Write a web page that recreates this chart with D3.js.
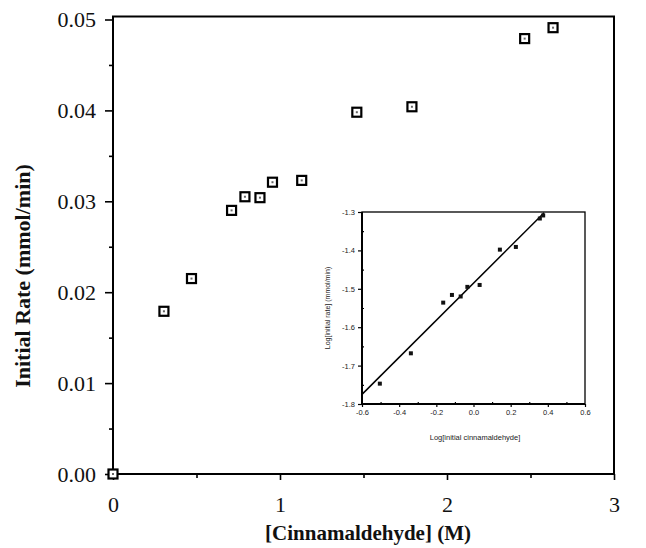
<!DOCTYPE html>
<html>
<head>
<meta charset="utf-8">
<script src="https://cdn.jsdelivr.net/npm/d3@7"></script>
<style>
  body { margin: 0; background: #fff; }
  svg { display: block; }
</style>
</head>
<body>
<div id="chart"></div>
<script>
// main plot: rate vs concentration
const conc = [0, 0.305, 0.47, 0.71, 0.79, 0.88, 0.955, 1.13, 1.46, 1.79, 2.465, 2.635];
const rate = [0, 0.0179, 0.0215, 0.0290, 0.0305, 0.0304, 0.0321, 0.0323, 0.0398, 0.0404, 0.0479, 0.0491];
const xTicks = [0, 1, 2, 3];
const xMinor = [0.5, 1.5, 2.5];
const yTicks = [0, 0.01, 0.02, 0.03, 0.04, 0.05];
const yMinor = [0.005, 0.015, 0.025, 0.035, 0.045];

// inset: log/log
const logConc = [-0.504, -0.337, -0.163, -0.116, -0.069, -0.033, 0.033, 0.142, 0.228, 0.357, 0.375];
const logRate = [-1.747, -1.668, -1.536, -1.516, -1.520, -1.495, -1.490, -1.398, -1.391, -1.317, -1.309];
const fitX = [-0.6, 0.38];
const fitY = [-1.775, -1.302];
const inXTicks = [-0.6, -0.4, -0.2, 0.0, 0.2, 0.4, 0.6];
const inXLabels = ["-0.6", "-0.4", "-0.2", "0.0", "0.2", "0.4", "0.6"];
const inYTicks = [-1.3, -1.4, -1.5, -1.6, -1.7, -1.8];
const inYLabels = ["-1.3", "-1.4", "-1.5", "-1.6", "-1.7", "-1.8"];
const inYMinor = [-1.35, -1.45, -1.55, -1.65, -1.75];
const inXMinor = [-0.5, -0.3, -0.1, 0.1, 0.3, 0.5];

const width = 646, height = 548;
const svg = d3.select("#chart").append("svg")
  .attr("width", width).attr("height", height);

const x = d3.scaleLinear().domain([0, 3]).range([113, 614]);
const y = d3.scaleLinear().domain([0, 0.05]).range([474, 19.5]);

const serif = "'Liberation Serif', 'DejaVu Serif', serif";

// frame
svg.append("rect")
  .attr("x", x(0)).attr("y", y(0.05) - 3)
  .attr("width", x(3) - x(0)).attr("height", y(0) - y(0.05) + 3)
  .attr("fill", "none").attr("stroke", "#000").attr("stroke-width", 2);

function styleAxis(g, font, size) {
  g.select(".domain").remove();
  g.selectAll("line").attr("stroke", "#000").attr("stroke-width", 1.6);
  g.selectAll("text").attr("font-family", font).attr("font-size", size).attr("fill", "#111");
}

svg.append("g")
  .attr("transform", `translate(${x(0)},0)`)
  .call(d3.axisLeft(y).tickValues(yTicks).tickFormat(d3.format(".2f")).tickSize(8).tickPadding(9))
  .call(g => styleAxis(g, serif, 22));
svg.append("g")
  .attr("transform", `translate(${x(0)},0)`)
  .call(d3.axisLeft(y).tickValues(yMinor).tickFormat("").tickSize(4))
  .call(g => styleAxis(g, serif, 22));

svg.append("g")
  .attr("transform", `translate(0,${y(0)})`)
  .call(d3.axisBottom(x).tickValues(xTicks).tickFormat(d3.format("d")).tickSize(6).tickPadding(16))
  .call(g => styleAxis(g, serif, 22));
svg.append("g")
  .attr("transform", `translate(0,${y(0)})`)
  .call(d3.axisBottom(x).tickValues(xMinor).tickFormat("").tickSize(4))
  .call(g => styleAxis(g, serif, 22));

// titles
svg.append("text")
  .attr("x", 368).attr("y", 540)
  .attr("text-anchor", "middle")
  .attr("font-family", serif).attr("font-size", 21).attr("font-weight", "bold")
  .attr("fill", "#111")
  .text("[Cinnamaldehyde] (M)");

svg.append("text")
  .attr("transform", "translate(30,276) rotate(-90)")
  .attr("text-anchor", "middle")
  .attr("font-family", serif).attr("font-size", 22).attr("font-weight", "bold")
  .attr("fill", "#111")
  .text("Initial Rate (mmol/min)");

// main markers
const pts = conc.map((c, i) => ({ c: c, r: rate[i] }));
const mk = svg.append("g");
mk.selectAll("rect.m").data(pts).enter().append("rect")
  .attr("class", "m")
  .attr("x", d => x(d.c) - 4.5).attr("y", d => y(d.r) - 4.5)
  .attr("width", 9).attr("height", 9)
  .attr("fill", "#fff").attr("stroke", "#000").attr("stroke-width", 2.2);
mk.selectAll("rect.c").data(pts).enter().append("rect")
  .attr("class", "c")
  .attr("x", d => x(d.c) - 1).attr("y", d => y(d.r) - 1)
  .attr("width", 2).attr("height", 2)
  .attr("fill", "#666");

// inset
const ix = d3.scaleLinear().domain([-0.6, 0.6]).range([362, 585]);
const iy = d3.scaleLinear().domain([-1.8, -1.3]).range([404, 212]);
const sans = "'Liberation Sans', Arial, sans-serif";

const inset = svg.append("g");
inset.append("rect")
  .attr("x", ix(-0.6)).attr("y", iy(-1.3))
  .attr("width", ix(0.6) - ix(-0.6)).attr("height", iy(-1.8) - iy(-1.3))
  .attr("fill", "#fff").attr("stroke", "#000").attr("stroke-width", 1.3);
inset.append("line")
  .attr("x1", ix(-0.6)).attr("x2", ix(-0.6)).attr("y1", iy(-1.3)).attr("y2", iy(-1.8))
  .attr("stroke", "#000").attr("stroke-width", 2);
inset.append("line")
  .attr("x1", ix(-0.6)).attr("x2", ix(0.6)).attr("y1", iy(-1.8)).attr("y2", iy(-1.8))
  .attr("stroke", "#000").attr("stroke-width", 2);

function styleInset(g) {
  g.select(".domain").remove();
  g.selectAll("line").attr("stroke", "#000").attr("stroke-width", 1.2);
  g.selectAll("text").attr("font-family", sans).attr("font-size", 7.5).attr("fill", "#222");
}

inset.append("g")
  .attr("transform", `translate(${ix(-0.6)},0)`)
  .call(d3.axisLeft(iy).tickValues(inYTicks).tickFormat((d, i) => inYLabels[i]).tickSize(4).tickPadding(3))
  .call(styleInset);
inset.append("g")
  .attr("transform", `translate(${ix(-0.6)},0)`)
  .call(d3.axisRight(iy).tickValues(inYMinor).tickFormat("").tickSize(2))
  .call(styleInset);
inset.append("g")
  .attr("transform", `translate(0,${iy(-1.8)})`)
  .call(d3.axisBottom(ix).tickValues(inXTicks).tickFormat((d, i) => inXLabels[i]).tickSize(3).tickPadding(3))
  .call(styleInset);
inset.append("g")
  .attr("transform", `translate(0,${iy(-1.8)})`)
  .call(d3.axisTop(ix).tickValues(inXMinor).tickFormat("").tickSize(2))
  .call(styleInset);

inset.append("text")
  .attr("x", 475).attr("y", 440)
  .attr("text-anchor", "middle")
  .attr("font-family", sans).attr("font-size", 7.5).attr("fill", "#222")
  .text("Log[initial cinnamaldehyde]");
inset.append("text")
  .attr("transform", "translate(330,308) rotate(-90)")
  .attr("text-anchor", "middle")
  .attr("font-family", sans).attr("font-size", 7).attr("fill", "#222")
  .text("Log[initial rate] (mmol/min)");

const fit = fitX.map((v, i) => [v, fitY[i]]);
inset.append("path")
  .attr("d", d3.line().x(d => ix(d[0])).y(d => iy(d[1]))(fit))
  .attr("fill", "none").attr("stroke", "#000").attr("stroke-width", 1.5);

inset.selectAll("rect.p").data(logConc.map((v, i) => [v, logRate[i]])).enter().append("rect")
  .attr("class", "p")
  .attr("x", d => ix(d[0]) - 2).attr("y", d => iy(d[1]) - 2)
  .attr("width", 4).attr("height", 4)
  .attr("fill", "#111");
</script>
</body>
</html>
